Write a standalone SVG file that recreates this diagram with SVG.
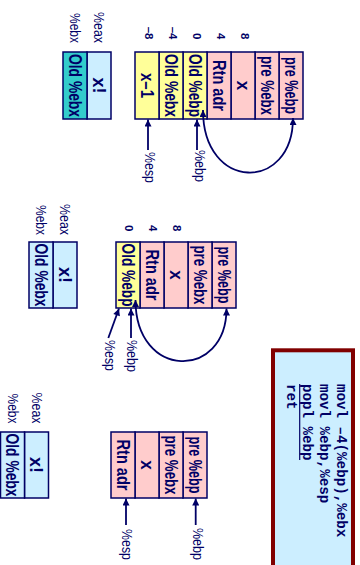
<svg xmlns="http://www.w3.org/2000/svg" width="360" height="565" viewBox="0 0 360 565">
<defs>
<style>
.c{stroke:#000066;stroke-width:1.5}
.pink{fill:#ffcccc}.yel{fill:#ffff99}.blue{fill:#cceeff}.teal{fill:#33cccc}
text{font-family:"Liberation Sans",Arial,sans-serif;fill:#000066}
.t{font-weight:bold;font-size:19px;text-anchor:middle}
.off{font-weight:bold;font-size:11.5px;text-anchor:end}
.reg{font-size:14.5px;text-anchor:end}
.ptr{font-size:14.5px;text-anchor:start}
.code{font-family:"Liberation Mono","Courier New",monospace;font-weight:bold;font-size:14.2px}
.ln{fill:none;stroke:#000066;stroke-width:1.8}
</style>
<marker id="ah" viewBox="0 0 10 10" refX="10" refY="5" markerUnits="userSpaceOnUse" markerWidth="8.5" markerHeight="7" orient="auto-start-reverse">
<path d="M0,0 L10,5 L0,10 z" fill="#000066"/>
</marker>
</defs>
<g transform="translate(360,0) rotate(90)">
<!-- Panel 1 -->
<g id="p1-offsets">
<text class="off" x="39.5" y="119.5">8</text>
<text class="off" x="39.5" y="143.5">4</text>
<text class="off" x="39.5" y="167.5">0</text>
<text class="off" x="39.5" y="191.5">–4</text>
<text class="off" x="39.5" y="215.5">–8</text>
</g>
<g id="p1-stack">
<rect class="c pink" x="52" y="57" width="67" height="24"/>
<text class="t" x="85.5" y="75.5" textLength="57" lengthAdjust="spacingAndGlyphs">pre %ebp</text>
<rect class="c pink" x="52" y="81" width="67" height="24"/>
<text class="t" x="85.5" y="99.5" textLength="59" lengthAdjust="spacingAndGlyphs">pre %ebx</text>
<rect class="c pink" x="52" y="105" width="67" height="24"/>
<text class="t" x="85.5" y="123.5" textLength="9.5" lengthAdjust="spacingAndGlyphs">x</text>
<rect class="c pink" x="52" y="129" width="67" height="24"/>
<text class="t" x="85.5" y="147.5" textLength="51" lengthAdjust="spacingAndGlyphs">Rtn adr</text>
<rect class="c yel" x="52" y="153" width="67" height="24"/>
<text class="t" x="85.5" y="171.5" textLength="63" lengthAdjust="spacingAndGlyphs">Old %ebp</text>
<rect class="c yel" x="52" y="177" width="67" height="24"/>
<text class="t" x="85.5" y="195.5" textLength="63" lengthAdjust="spacingAndGlyphs">Old %ebx</text>
<rect class="c yel" x="52" y="201" width="67" height="24"/>
<text class="t" x="85.5" y="219.5" textLength="25" lengthAdjust="spacingAndGlyphs">x–1</text>
</g>
<g id="p1-regs">
<rect class="c blue" x="52" y="249" width="67" height="24"/>
<text class="t" x="85.5" y="267.5" textLength="16" lengthAdjust="spacingAndGlyphs">x!</text>
<rect class="c teal" x="52" y="273" width="67" height="24"/>
<text class="t" x="85.5" y="291.5" textLength="63" lengthAdjust="spacingAndGlyphs">Old %ebx</text>
<text class="reg" x="43" y="266" textLength="31" lengthAdjust="spacingAndGlyphs">%eax</text>
<text class="reg" x="43" y="290" textLength="30" lengthAdjust="spacingAndGlyphs">%ebx</text>
</g>
<g id="p1-ptrs">
<text class="ptr" x="152" y="215.4" textLength="31" lengthAdjust="spacingAndGlyphs">%esp</text>
<text class="ptr" x="150" y="165.4" textLength="32" lengthAdjust="spacingAndGlyphs">%ebp</text>
</g>
<!-- Panel 2 -->
<g id="p2-offsets">
<text class="off" x="231.5" y="187.5">8</text>
<text class="off" x="231.5" y="211.5">4</text>
<text class="off" x="231.5" y="235.5">0</text>
</g>
<g id="p2-stack">
<rect class="c pink" x="242" y="124" width="66" height="24"/>
<text class="t" x="275" y="142.5" textLength="57" lengthAdjust="spacingAndGlyphs">pre %ebp</text>
<rect class="c pink" x="242" y="148" width="66" height="24"/>
<text class="t" x="275" y="166.5" textLength="59" lengthAdjust="spacingAndGlyphs">pre %ebx</text>
<rect class="c pink" x="242" y="172" width="66" height="24"/>
<text class="t" x="275" y="190.5" textLength="9.5" lengthAdjust="spacingAndGlyphs">x</text>
<rect class="c pink" x="242" y="196" width="66" height="24"/>
<text class="t" x="275" y="214.5" textLength="51" lengthAdjust="spacingAndGlyphs">Rtn adr</text>
<rect class="c yel" x="242" y="220" width="66" height="24"/>
<text class="t" x="275" y="238.5" textLength="63" lengthAdjust="spacingAndGlyphs">Old %ebp</text>
</g>
<g id="p2-regs">
<rect class="c blue" x="242" y="283" width="66" height="24"/>
<text class="t" x="275" y="301.5" textLength="16" lengthAdjust="spacingAndGlyphs">x!</text>
<rect class="c blue" x="242" y="307" width="66" height="24"/>
<text class="t" x="275" y="325.5" textLength="63" lengthAdjust="spacingAndGlyphs">Old %ebx</text>
<text class="reg" x="235" y="300" textLength="31" lengthAdjust="spacingAndGlyphs">%eax</text>
<text class="reg" x="235" y="324" textLength="30" lengthAdjust="spacingAndGlyphs">%ebx</text>
</g>
<g id="p2-ptrs">
<text class="ptr" x="340" y="255.4" textLength="31" lengthAdjust="spacingAndGlyphs">%esp</text>
<text class="ptr" x="340" y="233.4" textLength="32" lengthAdjust="spacingAndGlyphs">%ebp</text>
</g>
<!-- Panel 3 -->
<g id="p3-stack">
<rect class="c pink" x="432" y="153" width="66" height="24"/>
<text class="t" x="465" y="171.5" textLength="57" lengthAdjust="spacingAndGlyphs">pre %ebp</text>
<rect class="c pink" x="432" y="177" width="66" height="24"/>
<text class="t" x="465" y="195.5" textLength="59" lengthAdjust="spacingAndGlyphs">pre %ebx</text>
<rect class="c pink" x="432" y="201" width="66" height="24"/>
<text class="t" x="465" y="219.5" textLength="9.5" lengthAdjust="spacingAndGlyphs">x</text>
<rect class="c pink" x="432" y="225" width="66" height="24"/>
<text class="t" x="465" y="243.5" textLength="51" lengthAdjust="spacingAndGlyphs">Rtn adr</text>
</g>
<g id="p3-regs">
<rect class="c blue" x="432" y="311.5" width="66" height="24"/>
<text class="t" x="465" y="330" textLength="16" lengthAdjust="spacingAndGlyphs">x!</text>
<rect class="c blue" x="432" y="335.5" width="66" height="24"/>
<text class="t" x="465" y="354" textLength="63" lengthAdjust="spacingAndGlyphs">Old %ebx</text>
<text class="reg" x="423.5" y="328.5" textLength="31" lengthAdjust="spacingAndGlyphs">%eax</text>
<text class="reg" x="423.5" y="352.5" textLength="30" lengthAdjust="spacingAndGlyphs">%ebx</text>
</g>
<g id="p3-ptrs">
<text class="ptr" x="529" y="238.4" textLength="31" lengthAdjust="spacingAndGlyphs">%esp</text>
<text class="ptr" x="528" y="167.4" textLength="32" lengthAdjust="spacingAndGlyphs">%ebp</text>
</g>
<!-- Code box -->
<g id="code">
<rect x="350.3" y="7" width="300" height="80" fill="#cceeff" stroke="#800000" stroke-width="4"/>
<text class="code" x="384" y="23.3">movl –4(%ebp),%ebx</text>
<text class="code" x="384" y="40">movl %ebp,%esp</text>
<text class="code" x="384" y="56.7">popl %ebp</text>
<text class="code" x="384" y="73.3">ret</text>
<line x1="384" y1="60.3" x2="460" y2="60.3" stroke="#000066" stroke-width="1.2"/>
</g>
<!-- Connectors -->
<g id="connectors">
<line class="ln" x1="150" y1="212" x2="119.5" y2="212" marker-end="url(#ah)"/>
<line class="ln" x1="150" y1="163" x2="119.5" y2="163" marker-end="url(#ah)"/>
<path class="ln" d="M110,157 C192,157 192,67 118,67" marker-start="url(#ah)" marker-end="url(#ah)"/>
<line class="ln" x1="338" y1="251.7" x2="308.5" y2="241" marker-end="url(#ah)"/>
<line class="ln" x1="338" y1="229" x2="308.5" y2="229" marker-end="url(#ah)"/>
<path class="ln" d="M300,224.5 C380,224.5 380,133.5 308.5,133.5" marker-start="url(#ah)" marker-end="url(#ah)"/>
<line class="ln" x1="525" y1="234" x2="498.5" y2="234" marker-end="url(#ah)"/>
<line class="ln" x1="525" y1="164.3" x2="498.5" y2="164.3" marker-end="url(#ah)"/>
</g>
</g>
</svg>
